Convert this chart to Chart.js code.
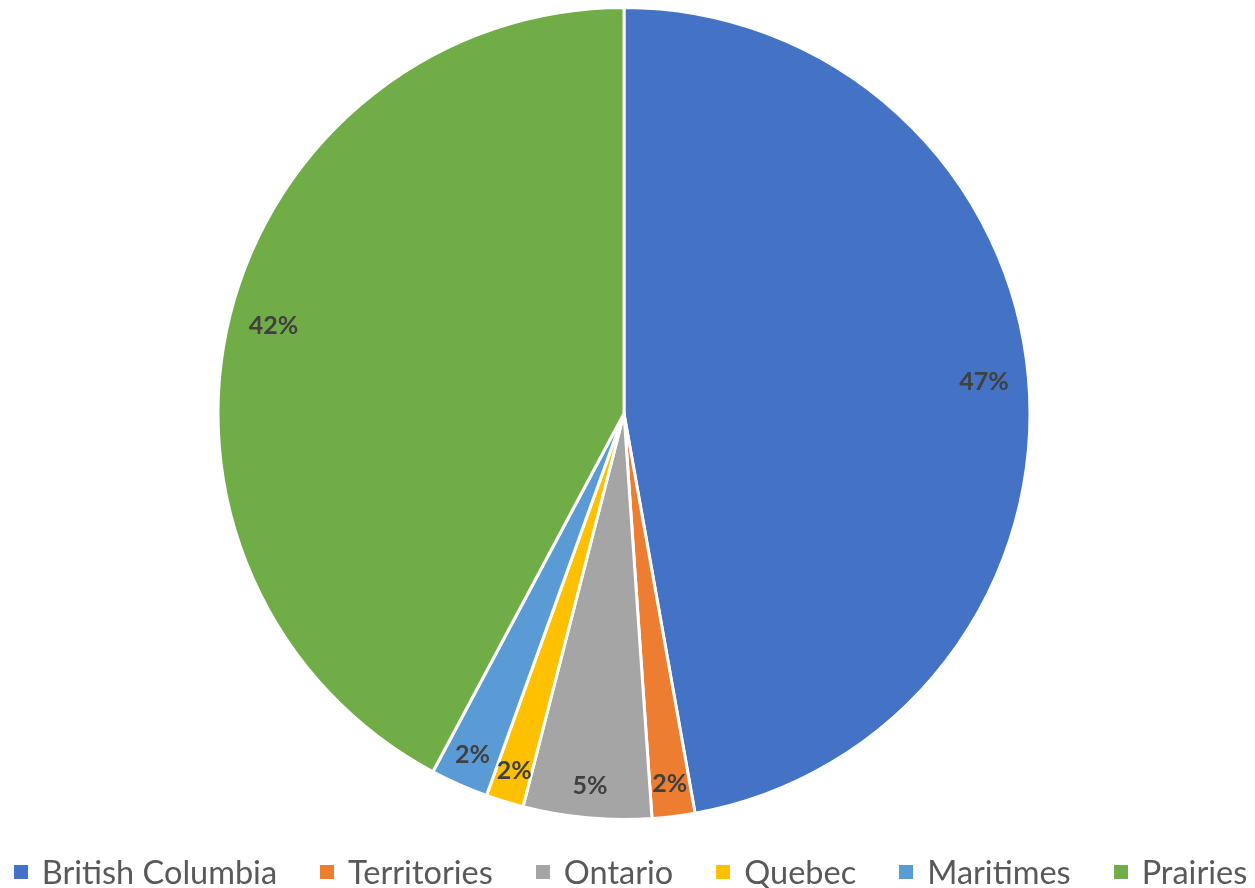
<!DOCTYPE html>
<html>
<head>
<meta charset="utf-8">
<script src="https://cdn.jsdelivr.net/npm/chart.js@4"></script>
<style>
  html, body { margin: 0; padding: 0; background: #ffffff; overflow: hidden; }
  #wrap { position: relative; width: 1255px; height: 888px; }
  #leyenda {
    position: absolute; left: 0; right: 0; top: 852px; height: 40px; line-height: 40px;
    display: flex; flex-wrap: nowrap; justify-content: center; align-items: center; gap: 43px;
    padding-left: 6px;
    white-space: nowrap;
    font-family: Lato, 'Noto Sans', sans-serif; font-size: 32.5px; color: #595959;
  }
</style>
</head>
<body>
<div id="wrap">
  <canvas id="grafico" width="1255" height="888"></canvas>
  <div id="leyenda"></div>
</div>
<script>
// datos
const regiones = ['British Columbia', 'Territories', 'Ontario', 'Quebec', 'Maritimes', 'Prairies'];
const valores = [47.2, 1.7, 5.1, 1.5, 2.3, 42.2];
const colores = ['#4472C4', '#ED7D31', '#A5A5A5', '#FFC000', '#5B9BD5', '#70AD47'];

// etiquetas de porcentaje dentro de cada sector
const etiquetas = {
  id: 'etiquetas',
  afterDatasetsDraw(chart) {
    const ctx = chart.ctx;
    const total = valores.reduce((a, b) => a + b, 0);
    ctx.save();
    ctx.font = 'bold 25px Lato, "Noto Sans", sans-serif';
    ctx.fillStyle = '#404040';
    ctx.textAlign = 'center';
    ctx.textBaseline = 'middle';
    chart.getDatasetMeta(0).data.forEach((arc, i) => {
      const p = arc.getProps(['x', 'y', 'startAngle', 'endAngle', 'outerRadius'], true);
      const medio = (p.startAngle + p.endAngle) / 2;
      const pct = valores[i] / total * 100;
      const r = p.outerRadius * (pct < 10 ? 0.92 : 0.89);
      ctx.fillText(Math.round(pct) + '%', p.x + Math.cos(medio) * r, p.y + Math.sin(medio) * r);
    });
    ctx.restore();
  }
};

new Chart(document.getElementById('grafico'), {
  type: 'pie',
  data: {
    labels: regiones,
    datasets: [{
      data: valores,
      backgroundColor: colores,
      borderColor: '#ffffff',
      borderWidth: 3
    }]
  },
  options: {
    responsive: false,
    animation: false,
    layout: { padding: { top: 6, bottom: 67, left: 0, right: 7 } },
    plugins: {
      legend: { display: false },
      tooltip: { enabled: false }
    }
  },
  plugins: [etiquetas]
});

// leyenda personalizada
let leyendaHtml = '';
regiones.forEach((region, i) => {
  leyendaHtml += `
    <span style="display:inline-flex; align-items:center; flex:none;">
      <span style="display:inline-block; width:14px; height:14px; margin-right:14px; background:${colores[i]};"></span>
      ${region}
    </span>`;
});
document.getElementById('leyenda').innerHTML = leyendaHtml;
</script>
</body>
</html>
